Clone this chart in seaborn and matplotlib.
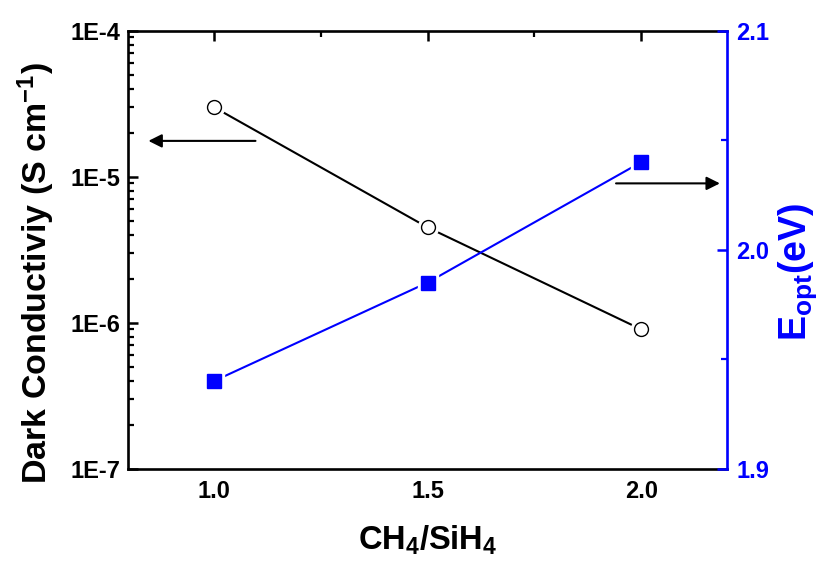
import matplotlib
matplotlib.use("Agg")
import matplotlib.pyplot as plt
from matplotlib.ticker import FixedLocator, NullFormatter, LogLocator, MultipleLocator
import numpy as np
import pandas as pd
import seaborn as sns

# Gas ratio and measured film properties
ratio = [1.0, 1.5, 2.0]
dark_conductivity = [3.0e-5, 4.5e-6, 9.0e-7]   # S cm^-1
e_opt = [1.940, 1.985, 2.040]                    # eV

x_ticks = [1.0, 1.5, 2.0]
x_tick_labels = ["1.0", "1.5", "2.0"]
left_ticks = [1e-7, 1e-6, 1e-5, 1e-4]
left_tick_labels = ["1E-7", "1E-6", "1E-5", "1E-4"]
right_ticks = [1.9, 2.0, 2.1]
right_tick_labels = ["1.9", "2.0", "2.1"]

sns.set_theme(style="white")
plt.rcParams["font.family"] = ["Liberation Sans", "DejaVu Sans"]
plt.rcParams["font.weight"] = "bold"
plt.rcParams["mathtext.fontset"] = "custom"
plt.rcParams["mathtext.rm"] = "Liberation Sans:bold"
plt.rcParams["mathtext.bf"] = "Liberation Sans:bold"
plt.rcParams["mathtext.default"] = "regular"
for key in ["text.color", "axes.labelcolor", "xtick.color", "ytick.color"]:
    plt.rcParams[key] = "black"

BLUE = "#0000ff"
df = pd.DataFrame({"ratio": ratio, "sigma": dark_conductivity, "eopt": e_opt})

fig = plt.figure(figsize=(8.21, 5.61), dpi=100)
ax = fig.add_axes([0.1563, 0.1645, 0.7289, 0.7807])
ax2 = ax.twinx()

# white halos leave a small gap between each line and its markers
ax.plot(df["ratio"], df["sigma"], linestyle="none", marker="o", markersize=14.5,
        color="white", zorder=3)
sns.lineplot(data=df, x="ratio", y="sigma", ax=ax, color="black", linewidth=1.5,
             zorder=2)
ax.plot(df["ratio"], df["sigma"], linestyle="none", marker="o", markersize=10,
        markerfacecolor="white", markeredgecolor="black", markeredgewidth=1.0, zorder=4)

ax2.plot(df["ratio"], df["eopt"], linestyle="none", marker="s", markersize=14,
         color="white", zorder=3)
sns.lineplot(data=df, x="ratio", y="eopt", ax=ax2, color=BLUE, linewidth=1.5,
             zorder=2)
ax2.plot(df["ratio"], df["eopt"], linestyle="none", marker="s", markersize=9.5,
         color=BLUE, zorder=4)

ax.set_yscale("log")
ax.set_xlim(0.8, 2.2)
ax.set_ylim(1e-7, 1e-4)
ax2.set_ylim(1.9, 2.1)

ax.set_xticks(x_ticks)
ax.set_xticklabels(x_tick_labels)
ax.xaxis.set_minor_locator(FixedLocator([1.25, 1.75]))
ax.set_yticks(left_ticks)
ax.set_yticklabels(left_tick_labels)
ax.yaxis.set_minor_locator(LogLocator(base=10, subs=np.arange(2, 10)))
ax.yaxis.set_minor_formatter(NullFormatter())
ax2.set_yticks(right_ticks)
ax2.set_yticklabels(right_tick_labels)
ax2.yaxis.set_minor_locator(MultipleLocator(0.05))

ax.tick_params(axis="x", which="major", pad=8)
ax.tick_params(axis="y", which="major", pad=6)
ax.tick_params(axis="both", which="major", direction="in", length=7.2, width=1.8,
               labelsize=17, colors="black", top=True, right=False)
ax.tick_params(axis="both", which="minor", direction="in", length=4.3, width=1.6,
               top=True, right=False)
ax2.tick_params(axis="y", which="major", direction="in", length=7.2, width=1.8,
                labelsize=17, colors=BLUE, pad=7)
ax2.tick_params(axis="y", which="minor", direction="in", length=4.3, width=1.6,
                colors=BLUE)
for lab in ax.get_xticklabels() + ax.get_yticklabels() + ax2.get_yticklabels():
    lab.set_fontweight("bold")

for s in ["left", "top", "bottom"]:
    ax.spines[s].set_color("black")
    ax.spines[s].set_linewidth(1.9)
    ax2.spines[s].set_visible(False)
ax.spines["right"].set_visible(False)
ax2.spines["right"].set_color(BLUE)
ax2.spines["right"].set_linewidth(1.9)

ax.set_xlabel("CH$_4$/SiH$_4$", fontsize=23.5, fontweight="bold", labelpad=15)
ax.set_ylabel("Dark Conductiviy (S cm$^{-1}$)", fontsize=24.5, fontweight="bold")
ax.yaxis.set_label_coords(-0.119, 0.446)
ax2.set_ylabel("E$_{opt}$(eV)", fontsize=27, fontweight="bold", color=BLUE)
ax2.yaxis.set_label_coords(1.082, 0.45)

# arrows pointing each curve to its own axis
ax.annotate("", xy=(0.847, 1.76e-5), xytext=(1.0975, 1.76e-5),
            arrowprops=dict(arrowstyle="-|>", color="black", lw=1.5,
                            mutation_scale=20, shrinkA=0, shrinkB=0))
ax2.annotate("", xy=(2.184, 2.0303), xytext=(1.941, 2.0303),
             arrowprops=dict(arrowstyle="-|>", color="black", lw=1.5,
                             mutation_scale=20, shrinkA=0, shrinkB=0))

fig.savefig("out.png", dpi=100)
